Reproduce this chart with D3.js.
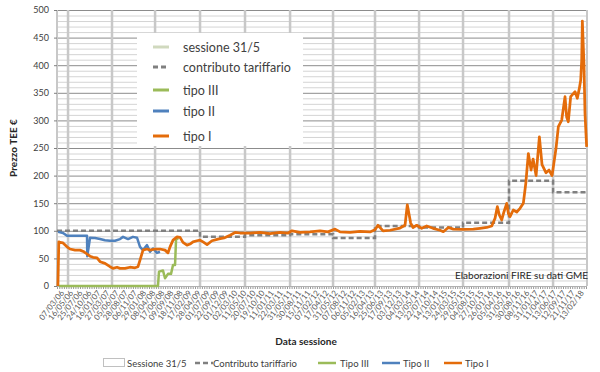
<!DOCTYPE html>
<html>
<head>
<meta charset="utf-8">
<script src="https://cdn.jsdelivr.net/npm/d3@7"></script>
<style>
  body { margin: 0; background: #fff; }
  svg { font-family: Lato, "Open Sans", sans-serif; }
</style>
</head>
<body>
<div id="chart"></div>
<script>
// category labels on the x axis (one every few sessions)
const dateLabels = ["07/03/06","16/05/06","25/07/06","24/10/06","16/01/07","27/03/07","05/06/07","28/08/07",
  "06/11/07","29/01/08","08/04/08","17/06/08","09/09/08","18/11/08","17/02/09","28/04/09","01/07/09","22/09/09",
  "01/12/09","02/03/10","11/05/10","20/07/10","19/10/10","11/01/11","22/03/11","31/05/11","30/08/11","15/11/11",
  "07/02/12","17/04/12","31/05/12","07/08/12","06/11/12","05/02/13","16/04/13","25/06/13","17/09/13","03/12/13",
  "04/03/14","13/05/14","22/07/14","14/10/14","13/01/15","24/03/15","29/05/15","04/08/15","27/10/15","26/01/16",
  "05/04/16","31/05/16","30/08/16","08/11/16","31/01/17","11/04/17","13/06/17","12/09/17","21/11/17","13/02/18"];

const yTicks = [0, 50, 100, 150, 200, 250, 300, 350, 400, 450, 500];

// position of the 31/5 sessions (in label units)
const sessione315 = [0.66, 5.48, 10.2, 15.13, 20.06, 25.0, 29.71, 34.31, 39.14, 43.96, 49.0, 53.83];

// [position, €/TEE]
const contributo = [[-0.55,100],[15.13,89],[20.06,92],[25.0,93.7],[29.71,87],[34.31,108.7],
  [39.14,105.8],[43.96,114.7],[49.0,190.8],[53.83,169.7],[57.55,169.7]];

const tipoIII = [[-0.33,0],[10.52,0],[10.63,26],[11.07,28],[11.29,14],[11.62,22],[11.95,22],
  [12.17,38],[12.39,38],[12.5,84],[12.75,87]];

const tipoII = [[-0.44,98],[0.11,96],[0.55,91],[2.74,91],[2.77,54],[3.07,87.5],[3.62,87],[4.17,85],
  [4.71,83],[5.26,82],[5.81,82],[6.36,85],[6.69,89],[7.24,85],[7.78,89],[8.22,87.5],[8.55,71],
  [8.88,65],[9.32,74],[9.65,62],[9.98,68],[10.41,60],[10.74,62]];

const tipoI = [[-0.45,0],[-0.35,80],[-0.22,79],[0.11,78],[0.55,71],[0.88,67],[1.43,65],[1.97,65],
  [2.41,62],[2.74,58],[3.07,54],[3.4,52],[3.84,51],[4.17,44],[4.71,41],[5.26,35],[5.59,32],[6.03,34],
  [6.36,32],[6.91,32],[7.45,34],[8.0,33],[8.33,35],[8.55,47],[8.88,65],[9.32,67],[9.65,65],[10.2,67],
  [10.74,67],[11.29,65],[11.62,60],[11.84,71],[12.17,83],[12.61,89],[12.94,88],[13.26,79],[13.7,74],
  [14.03,76],[14.36,80],[14.8,82],[15.13,83],[15.46,80],[15.9,75],[16.44,82],[17.1,85],[17.76,87],
  [18.42,92],[18.97,97],[19.51,96],[20.61,96],[21.71,97],[22.8,95],[23.9,97],[24.78,96],[25.21,100],
  [26.09,97],[27.19,98],[28.28,100],[29.16,98],[29.93,103],[30.48,98],[31.57,97],[32.67,99],[33.76,98],
  [34.31,102],[34.64,110],[35.19,100],[35.96,101],[37.05,105],[37.6,110],[37.85,147],[38.22,114],
  [38.48,106],[38.88,110],[39.43,104.5],[39.98,108.7],[40.67,104.5],[41.44,101],[41.8,98.4],[42.35,106],
  [42.9,103],[43.99,102.7],[45.09,103],[45.82,104.5],[46.56,106],[47.11,108.7],[47.47,122.6],[47.72,143.7],
  [47.94,128.6],[48.2,119.6],[48.45,134.6],[48.75,149.8],[48.93,131.7],[49.11,125.6],[49.47,137.7],
  [49.85,134],[50.21,140.7],[50.57,149.8],[50.84,186],[51.12,240],[51.42,210],[51.64,230],[51.97,200],
  [52.33,270],[52.62,220],[53.06,205],[53.39,210],[53.72,200],[54.15,249],[54.41,288.6],[54.78,300.7],
  [55.14,343],[55.32,306],[55.5,297.6],[55.76,343],[56.24,352],[56.49,340],[56.71,358],[56.86,373],
  [56.97,409],[57.04,480],[57.22,400],[57.33,313],[57.51,252]];

const colors = { sess: "#c8c8c8", contributo: "#808080", tipoIII: "#9bbb59", tipoII: "#4f81bd", tipoI: "#e46c0a" };

const width = 600, height = 372;
const plot = { left: 57, right: 587, top: 10, bottom: 286 };

const svg = d3.select("#chart").append("svg")
  .attr("width", width)
  .attr("height", height);

const x = d3.scaleLinear().domain([-0.55, 57.55]).range([plot.left, plot.right]);
const y = d3.scaleLinear().domain([0, 500]).range([plot.bottom, plot.top]);

// minor gridlines every 10
svg.append("g")
  .selectAll("line")
  .data(d3.range(10, 500, 10).filter(v => v % 50 !== 0))
  .enter().append("line")
  .attr("x1", plot.left).attr("x2", plot.right)
  .attr("y1", d => y(d) + 0.5).attr("y2", d => y(d) + 0.5)
  .attr("stroke", "#d4d4d4").attr("stroke-width", 1);

// major gridlines every 50
svg.append("g")
  .selectAll("line")
  .data(yTicks.filter(v => v > 0))
  .enter().append("line")
  .attr("x1", plot.left).attr("x2", plot.right)
  .attr("y1", d => y(d) + 0.5).attr("y2", d => y(d) + 0.5)
  .attr("stroke", "#8c8c8c").attr("stroke-width", 1);

// sessione 31/5 bars
svg.append("g")
  .selectAll("line")
  .data(sessione315)
  .enter().append("line")
  .attr("x1", d => x(d)).attr("x2", d => x(d))
  .attr("y1", y(500)).attr("y2", y(0))
  .attr("stroke", colors.sess).attr("stroke-width", 2.5);

// plot borders
svg.append("line").attr("x1", plot.left).attr("x2", plot.left).attr("y1", plot.top).attr("y2", plot.bottom)
  .attr("stroke", "#c8c8c8").attr("stroke-width", 2);
svg.append("line").attr("x1", plot.right).attr("x2", plot.right).attr("y1", plot.top).attr("y2", plot.bottom)
  .attr("stroke", "#c8c8c8").attr("stroke-width", 2);

// y axis
const yAxis = svg.append("g")
  .attr("transform", "translate(" + plot.left + ",0)")
  .call(d3.axisLeft(y).tickValues(yTicks).tickSize(3).tickPadding(5));
yAxis.select(".domain").remove();
yAxis.selectAll("line").attr("stroke", "#808080");
yAxis.selectAll("text").attr("font-size", 9).attr("fill", "#404040").attr("font-family", "Lato");

// x axis: dense category ticks + rotated labels
svg.append("line")
  .attr("x1", plot.left).attr("x2", plot.right)
  .attr("y1", plot.bottom + 1.5).attr("y2", plot.bottom + 1.5)
  .attr("stroke", "#9a9a9a").attr("stroke-width", 3)
  .attr("stroke-dasharray", "1,1.3");
svg.append("line")
  .attr("x1", plot.left).attr("x2", plot.right)
  .attr("y1", plot.bottom + 0.5).attr("y2", plot.bottom + 0.5)
  .attr("stroke", "#b0b0b0").attr("stroke-width", 1);

svg.append("g")
  .selectAll("text")
  .data(dateLabels)
  .enter().append("text")
  .attr("transform", (d, i) => "translate(" + (x(i) + 2.5) + "," + (plot.bottom + 7) + ") rotate(-52)")
  .attr("text-anchor", "end")
  .attr("font-size", 8)
  .attr("fill", "#595959")
  .text(d => d);

// series
const line = d3.line().x(d => x(d[0])).y(d => y(d[1]));

svg.append("path").datum(contributo)
  .attr("d", line.curve(d3.curveStepAfter))
  .attr("fill", "none").attr("stroke", colors.contributo).attr("stroke-width", 2.5)
  .attr("stroke-dasharray", "5,3");
line.curve(d3.curveLinear);

svg.append("path").datum(tipoIII)
  .attr("d", line)
  .attr("fill", "none").attr("stroke", colors.tipoIII).attr("stroke-width", 2.5)
  .attr("stroke-linejoin", "round");

svg.append("path").datum(tipoII)
  .attr("d", line)
  .attr("fill", "none").attr("stroke", colors.tipoII).attr("stroke-width", 2.5)
  .attr("stroke-linejoin", "round");

svg.append("path").datum(tipoI)
  .attr("d", line)
  .attr("fill", "none").attr("stroke", colors.tipoI).attr("stroke-width", 2.75)
  .attr("stroke-linejoin", "round");

// source note
svg.append("text")
  .attr("x", 455).attr("y", 279)
  .attr("font-size", 10).attr("fill", "#262626")
  .text("Elaborazioni FIRE su dati GME");

// inner legend
const inner = [
  { name: "sessione 31/5", color: "#d0d9be", dash: null },
  { name: "contributo tariffario", color: colors.contributo, dash: "5,3" },
  { name: "tipo III", color: colors.tipoIII, dash: null },
  { name: "tipo II", color: colors.tipoII, dash: null },
  { name: "tipo I", color: colors.tipoI, dash: null }
];
const innerY = [47, 67, 90, 111, 136];
svg.append("rect")
  .attr("x", 137).attr("y", 33).attr("width", 166).attr("height", 113)
  .attr("fill", "#fff");
const ig = svg.append("g").selectAll("g")
  .data(inner)
  .enter().append("g")
  .attr("transform", (d, i) => "translate(0," + innerY[i] + ")");
ig.append("line")
  .attr("x1", 153).attr("x2", 169).attr("y1", 0).attr("y2", 0)
  .attr("stroke", d => d.color).attr("stroke-width", 3)
  .attr("stroke-dasharray", d => d.dash);
ig.append("text")
  .attr("x", 183).attr("y", 4.5)
  .attr("font-size", 12.5).attr("fill", "#404040")
  .text(d => d.name);

// axis titles
svg.append("text")
  .attr("transform", "translate(17,148) rotate(-90)")
  .attr("text-anchor", "middle")
  .attr("font-size", 10).attr("font-weight", "bold").attr("fill", "#262626")
  .text("Prezzo TEE €");

svg.append("text")
  .attr("x", 306).attr("y", 345)
  .attr("text-anchor", "middle")
  .attr("font-size", 10).attr("font-weight", "bold").attr("fill", "#262626")
  .text("Data sessione");

// bottom legend
const bottom = [
  { name: "Sessione 31/5", type: "box", x: 103, tx: 127 },
  { name: "Contributo tariffario", type: "dash", color: colors.contributo, x: 195, tx: 213 },
  { name: "Tipo III", type: "line", color: colors.tipoIII, x: 318, tx: 340 },
  { name: "Tipo II", type: "line", color: colors.tipoII, x: 382, tx: 403 },
  { name: "Tipo I", type: "line", color: colors.tipoI, x: 444, tx: 465 }
];
const by = 363;
const bg = svg.append("g").selectAll("g").data(bottom).enter().append("g");
bg.filter(d => d.type === "box").append("rect")
  .attr("x", d => d.x + 0.5).attr("y", by - 4.5).attr("width", 21).attr("height", 8)
  .attr("fill", "#fff").attr("stroke", "#c0c0c0");
bg.filter(d => d.type !== "box").append("line")
  .attr("x1", d => d.x).attr("x2", d => d.x + 18).attr("y1", by).attr("y2", by)
  .attr("stroke", d => d.color).attr("stroke-width", 2.5)
  .attr("stroke-dasharray", d => d.type === "dash" ? "5,3" : null);
bg.append("text")
  .attr("x", d => d.tx).attr("y", by + 3.5)
  .attr("font-size", 9.5).attr("fill", "#404040")
  .text(d => d.name);
</script>
</body>
</html>
